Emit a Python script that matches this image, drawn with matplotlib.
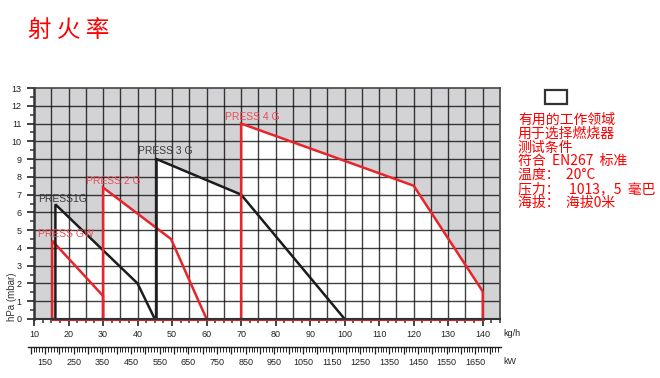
import numpy as np
import matplotlib
matplotlib.use("Agg")
import matplotlib.pyplot as plt
from matplotlib.patches import Polygon, Rectangle

plt.rcParams['font.family'] = ['Liberation Sans', 'Noto Sans CJK SC', 'DejaVu Sans']

# рабочие поля горелок (kg/h, hPa)
names = ['PRESS GW', 'PRESS1G', 'PRESS 2 G', 'PRESS 3 G', 'PRESS 4 G']
colors = ['#e8242c', '#1c1c1c', '#e8242c', '#1c1c1c', '#e8242c']
label_colors = ['#ee4d57', '#3a3a3a', '#ee4d57', '#3a3a3a', '#ee4d57']
fields_x = [
    [15.3, 15.3, 30, 30],
    [16.2, 16.2, 40, 45],
    [30, 30, 49.7, 60],
    [45.5, 45.5, 70, 100],
    [70, 70, 120, 140, 140],
]
fields_y = [
    [0, 4.4, 1.3, 0],
    [0, 6.45, 2.0, 0],
    [0, 7.4, 4.5, 0],
    [0, 9.0, 7.0, 0],
    [0, 11.0, 7.5, 1.55, 0],
]
label_x = [11.2, 11.2, 25.2, 40.0, 65.4]
label_y = [4.8, 6.75, 7.75, 9.45, 11.35]

kgh_ticks = list(range(10, 150, 10))
kw_ticks = list(range(150, 1750, 100))

title = '射 火 率'
notes = ['有用的工作领域', '用于选择燃烧器', '测试条件', '符合  EN267  标准',
         '温度：  20°C', '压力：   1013，5  毫巴', '海拔：  海拔0米']

fig = plt.figure(figsize=(6.6, 3.78), dpi=100)
ax = fig.add_axes([34/660, 1-319/378, 466/660, 231/378])
ax.set_facecolor('#d3d3d6')
ax.set_xlim(10, 145)
ax.set_ylim(0, 13)

# белые рабочие области
for fx, fy in zip(fields_x, fields_y):
    ax.add_patch(Polygon(np.column_stack([fx, fy]), closed=True,
                         facecolor='white', edgecolor='none', zorder=1))

# сетка
for gx in np.arange(15, 145, 5):
    ax.axvline(gx, color='black', alpha=0.75, lw=1.0, zorder=2)
for gy in np.arange(1, 13, 1):
    ax.axhline(gy, color='black', alpha=0.75, lw=1.0, zorder=2)

# контуры
for fx, fy, c in zip(fields_x, fields_y, colors):
    ax.plot(fx, fy, color=c, lw=1.8, zorder=3, solid_joinstyle='miter')
x0 = min(f[0] for f in fields_x)
x1 = max(f[-1] for f in fields_x)
ax.plot([x0, x1], [0, 0], color='#d8242c', lw=2.2, zorder=4, clip_on=False)

for n, lx, ly, c in zip(names, label_x, label_y, label_colors):
    ax.text(lx, ly, n, color=c, fontsize=7.5, va='center', ha='left', zorder=5)

for s in ['top', 'right']:
    ax.spines[s].set_color('#444444')
    ax.spines[s].set_linewidth(1.2)
ax.spines['left'].set_color('#333333')
ax.spines['left'].set_linewidth(1.8)
ax.spines['bottom'].set_color('#333333')
ax.spines['bottom'].set_linewidth(1.5)
for s in ax.spines.values():
    s.set_zorder(6)

ax.set_xticks(kgh_ticks)
ax.set_xticks(np.arange(10, 145.1, 2.5), minor=True)
ax.set_yticks(range(0, 14))
ax.set_yticks(np.arange(0.5, 13, 1), minor=True)
ax.tick_params(axis='both', which='major', labelsize=6.5, colors='#222222',
               length=5, width=1.2, direction='out', pad=3)
ax.tick_params(axis='both', which='minor', length=3, width=1.1, colors='#333333')
ax.tick_params(axis='y', which='major', pad=4)
fig.text(503/660, 1-334/378, 'kg/h', fontsize=6.5, color='#222222', va='center')
fig.text(12/660, 1-297/378, 'hPa (mbar)', fontsize=7, color='#333333',
         rotation=90, va='center', ha='center')

# шкала kW
ax2 = fig.add_axes([28/660, 1-347/378, 473/660, 0.0005])
ax2.set_xlim(90.5, 1740)
ax2.set_ylim(0, 1)
for s in ['top', 'left', 'right']:
    ax2.spines[s].set_visible(False)
ax2.spines['bottom'].set_color('#222222')
ax2.spines['bottom'].set_linewidth(1.0)
ax2.set_yticks([])
ax2.set_xticks(range(100, 1740, 50))
ax2.set_xticklabels([str(v) if v in kw_ticks else '' for v in range(100, 1740, 50)])
ax2.set_xticks(range(100, 1740, 10), minor=True)
ax2.tick_params(axis='x', which='major', length=5, width=0.9, labelsize=6.5,
                colors='#222222', pad=3)
ax2.tick_params(axis='x', which='minor', length=3.5, width=0.7, colors='#222222')
fig.text(503/660, 1-362/378, 'kW', fontsize=6.5, color='#222222', va='center')

# заголовок и пояснения
fig.text(28/660, 1-30/378, title, fontsize=17, color='#ff0000', va='center',
         family=['Noto Sans CJK SC', 'DejaVu Sans'])
fig.patches.append(Rectangle((545/660, 1-104/378), 22/660, 14/378, transform=fig.transFigure,
                             facecolor='white', edgecolor='#333333', lw=1.6))
for i, t in enumerate(notes):
    fig.text(518/660, 1-(120 + 13.8*i)/378, t, fontsize=10, color='#ff0000', va='center',
             family=['Noto Sans CJK SC', 'DejaVu Sans'])

fig.savefig('out.png', dpi=100)
